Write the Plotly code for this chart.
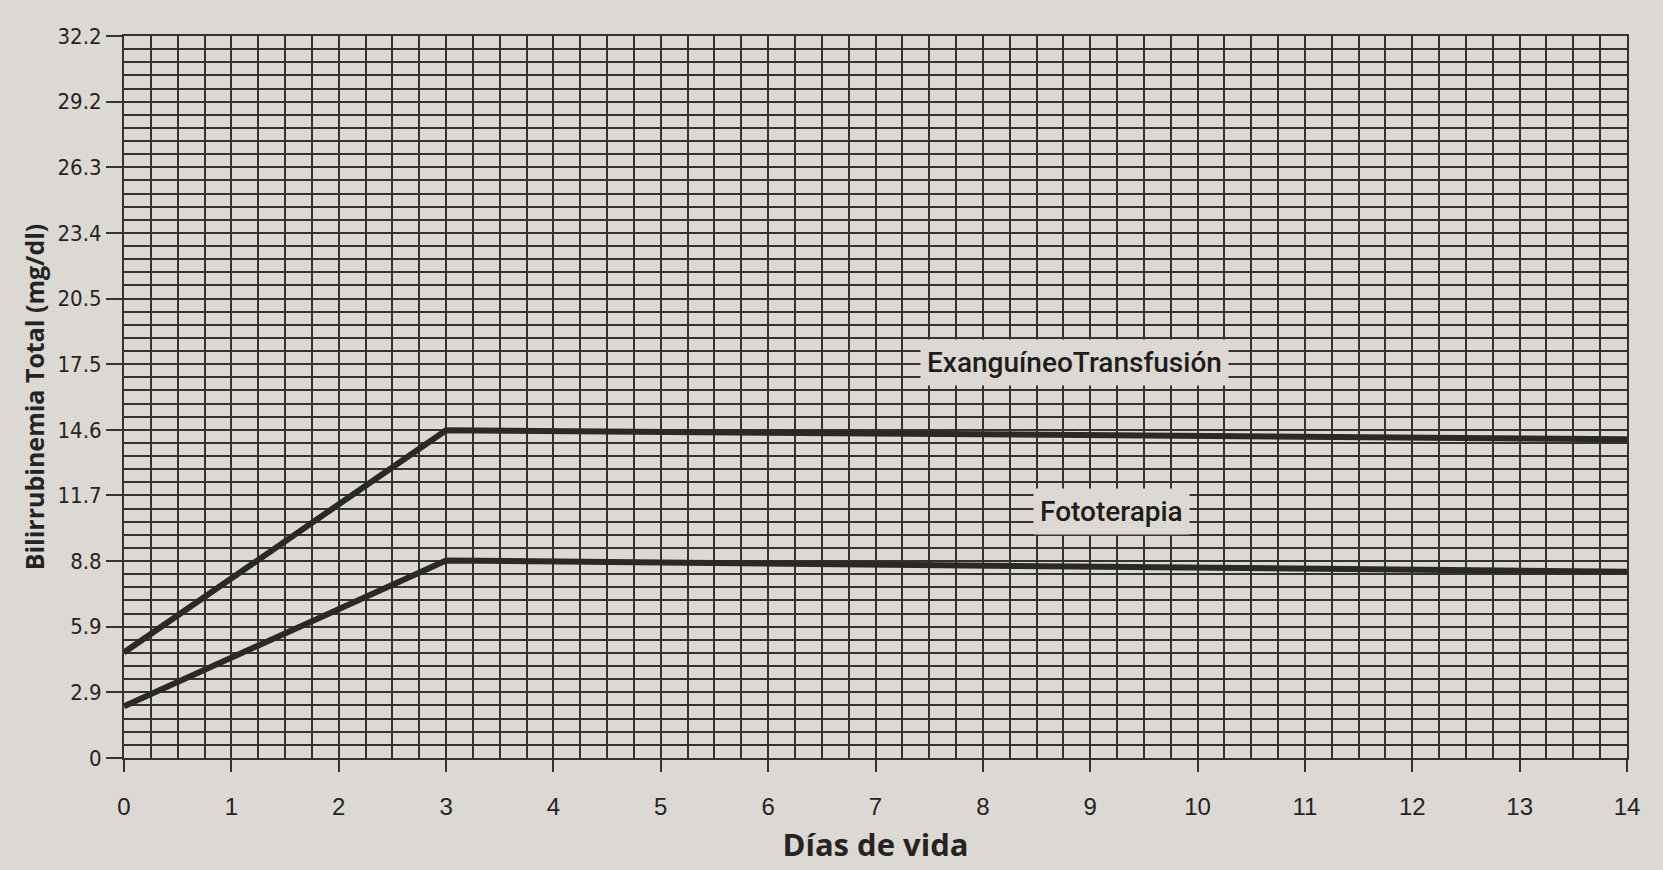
import plotly.graph_objects as go

# Data
dias_exang = [0, 3, 14]
exanguineo = [4.7, 14.6, 14.2]
dias_foto = [0, 3, 14]
fototerapia = [2.3, 8.8, 8.3]

y_tick_values = [0, 2.924, 5.848, 8.772, 11.696, 14.62, 17.544, 20.468, 23.392, 26.316, 29.24, 32.164]
y_tick_labels = ["0", "2.9", "5.9", "8.8", "11.7", "14.6", "17.5", "20.5", "23.4", "26.3", "29.2", "32.2"]
x_tick_values = list(range(0, 15))

paper = "#dcd8d3"
ink = "#2b2828"
grid = "#353232"
txt = "#262323"

fig = go.Figure()
fig.add_trace(go.Scatter(x=dias_exang, y=exanguineo, mode="lines",
                         line=dict(color=ink, width=6), showlegend=False, hoverinfo="skip"))
fig.add_trace(go.Scatter(x=dias_foto, y=fototerapia, mode="lines",
                         line=dict(color=ink, width=6), showlegend=False, hoverinfo="skip"))

fig.add_annotation(x=8.85, y=17.6, text="ExanguíneoTransfusión", showarrow=False,
                   font=dict(family="Roboto", size=28, weight=500, color="#1e1c1c"),
                   bgcolor=paper, borderpad=6)
fig.add_annotation(x=9.2, y=11.0, text="Fototerapia", showarrow=False,
                   font=dict(family="Roboto", size=28, weight=500, color="#1e1c1c"),
                   bgcolor=paper, borderpad=6)

fig.update_layout(
    width=1663, height=870,
    paper_bgcolor=paper, plot_bgcolor=paper,
    margin=dict(l=124, r=36, t=36, b=112),
    xaxis=dict(range=[0, 14], tickmode="array", tickvals=x_tick_values,
               showgrid=True, gridcolor=grid, gridwidth=1.6,
               minor=dict(dtick=0.25, tick0=0, showgrid=True, gridcolor=grid, gridwidth=1.6),
               ticks="outside", ticklen=12, tickwidth=1.6, tickcolor=grid,
               ticklabelstandoff=14,
               showline=True, linecolor=grid, linewidth=2, mirror=True,
               zeroline=False,
               tickfont=dict(family="Liberation Sans", size=24, color=txt),
               title=dict(text="<b>Días de vida</b>", standoff=16,
                          font=dict(family="Open Sans", size=31, color=txt))),
    yaxis=dict(range=[0, 32.164], tickmode="array", tickvals=y_tick_values, ticktext=y_tick_labels,
               showgrid=True, gridcolor=grid, gridwidth=1.6,
               minor=dict(dtick=0.5848, tick0=0, showgrid=True, gridcolor=grid, gridwidth=1.6),
               ticks="outside", ticklen=16, tickwidth=1.6, tickcolor=grid,
               showline=True, linecolor=grid, linewidth=2, mirror=True,
               zeroline=False,
               tickfont=dict(family="DejaVu Sans Condensed", size=22, color=txt),
               title=dict(text="<b>Bilirrubinemia Total (mg/dl)</b>", standoff=6,
                          font=dict(family="Open Sans", size=25, color=txt))),
)

fig.write_html("out.html", config={"displayModeBar": False},
               post_script="document.body.style.margin='0';document.body.style.background='%s';" % paper)
